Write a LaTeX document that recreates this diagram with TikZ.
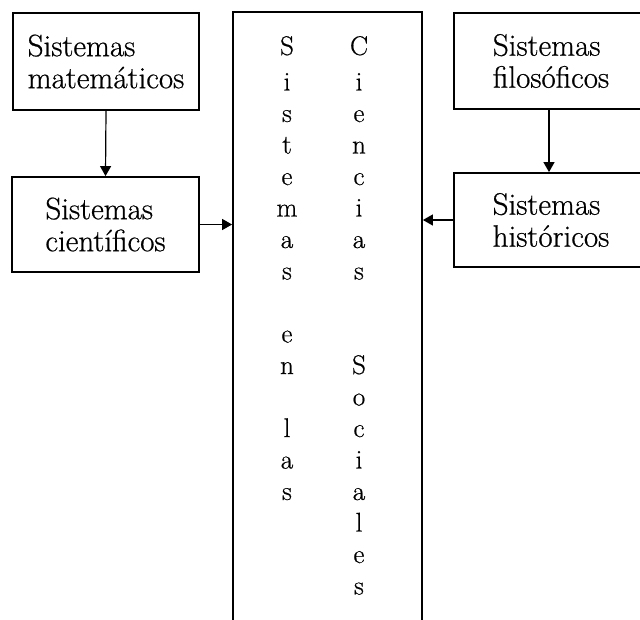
\documentclass[tikz,border=0pt]{standalone}
\usepackage{fontspec}
\newfontfamily\inkfont{Latin Modern Roman}[FakeBold=0.6]
\usetikzlibrary{arrows.meta}
\begin{document}
\begin{tikzpicture}[x=1pt,y=-1pt,
  box/.style={draw, line width=1.8pt, rectangle, inner sep=0pt, align=left,
    font=\inkfont\fontsize{31}{32}\selectfont},
  conn/.style={line width=1.2pt, -{Triangle[length=10pt,width=11pt]}},
  letter/.style={inner sep=0pt, anchor=base, font=\inkfont\fontsize{27}{30}\selectfont}]
\useasboundingbox (0,0) rectangle (640,619);
\clip (0,0) rectangle (640,619);

% left branch
\node[box, minimum width=186pt, minimum height=97pt] (mat) at (106,61.5) {Sistemas\\matemáticos};
\node[box, minimum width=187pt, minimum height=95pt] (sci) at (105.5,224.5) {Sistemas\\científicos};

% right branch (runs past the right edge)
\node[box, minimum width=194pt, minimum height=96pt] (fil) at (551,61) {Sistemas\\filosóficos};
\node[box, minimum width=194pt, minimum height=94pt] (his) at (551,220) {Sistemas\\históricos};

% central column, open at the bottom
\node[draw, line width=1.8pt, rectangle, minimum width=189pt, minimum height=660pt] (central) at (327.5,342) {};

% vertical lettering
\foreach \r/\ch/\dy in {0/S/-4,1/i/0,2/s/0,3/t/0,4/e/0,5/m/0,6/a/0,7/s/0,9/e/0,10/n/0,12/l/0,13/a/0,14/s/0}
  \node[letter] (L\r) at (287,{59+31.5*\r+\dy}) {\ch};
\foreach \r/\ch/\dy in {0/C/-4,1/i/0,2/e/0,3/n/0,4/c/0,5/i/0,6/a/0,7/s/0,10/S/0,11/o/0,12/c/0,13/i/0,14/a/0,15/l/0,16/e/0,17/s/0}
  \node[letter] (R\r) at (359,{59+31.5*\r+\dy}) {\ch};

% connectors
\draw[conn] (mat.south) -- (sci.north);
\draw[conn] (fil.south -| 549,0) -- (his.north -| 549,0);
\draw[conn] (sci.east) -- (sci.east -| central.west);
\draw[conn] (his.west) -- (his.west -| central.east);
\end{tikzpicture}
\end{document}
